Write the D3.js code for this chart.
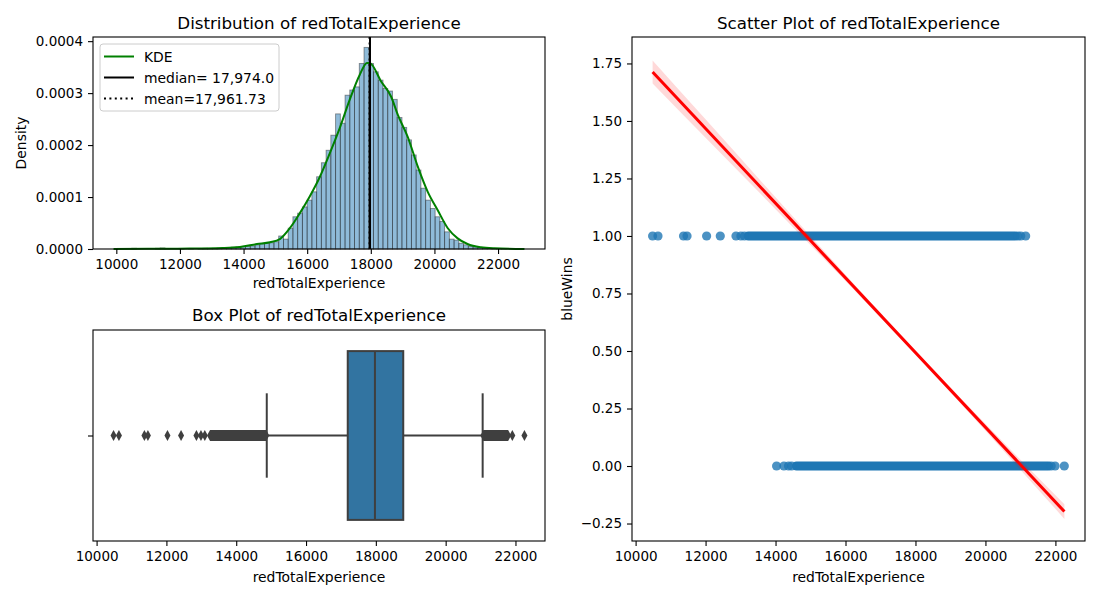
<!DOCTYPE html>
<html>
<head>
<meta charset="utf-8">
<script src="https://cdn.jsdelivr.net/npm/d3@7"></script>
<style>
  body { margin: 0; background: #fff; }
  svg text { font-family: "DejaVu Sans", sans-serif; fill: #000; }
</style>
</head>
<body>
<svg id="chart" width="1100" height="600"></svg>
<script>
// ---- data ----
const featureName = "redTotalExperience";
const targetName = "blueWins";

// histogram (density), bins of equal width starting at the data minimum
const histBinStart = 10486;
const histBinWidth = 149;
const histDensityE5 = [
  0.14, 0, 0, 0, 0, 0.14, 0.2, 0.07, 0, 0,
  0.07, 0, 0.07, 0, 0.07, 0.14, 0.07, 0.14, 0.2, 0.2,
  0.3, 0.35, 0.4, 0.5, 0.5, 0.6, 0.8, 1.0, 1.1, 1.2,
  1.4, 2.5, 1.9, 4.0, 6.2, 6.9, 8.1, 9.4, 11.0, 13.9,
  16.6, 19.0, 21.9, 26.0, 24.2, 29.6, 30.6, 31.2, 35.7, 38.8,
  35.7, 34.1, 32.5, 30.9, 30.4, 28.8, 25.3, 23.4, 21.0, 18.1,
  15.2, 11.7, 9.4, 7.8, 6.2, 5.3, 3.3, 1.9, 1.7, 1.1,
  0.8, 0.5, 0.4, 0.3, 0.2, 0.15, 0.1, 0.07, 0.07
];

// KDE curve samples
const kdeX = [9913, 11000, 12300, 13350, 13890, 14420, 14830, 15140, 15455, 15770,
  16080, 16400, 16710, 17020, 17335, 17650, 17880, 17960, 18330, 18640,
  18850, 19160, 19480, 19790, 20100, 20420, 20730, 21040, 21460, 21880, 22830];
const kdeYE5 = [0, 0.03, 0.08, 0.2, 0.4, 0.95, 1.3, 1.9, 4.0, 6.9,
  10.1, 13.9, 18.4, 23.2, 28.7, 33.5, 35.8, 35.8, 32.2, 29.3,
  25.8, 21.6, 15.8, 11.0, 7.5, 4.0, 2.05, 0.96, 0.33, 0.13, 0];

const medianValue = 17974.0;
const meanValue = 17961.73;

const histYTicks = [0, 0.0001, 0.0002, 0.0003, 0.0004];
const xTicks = [10000, 12000, 14000, 16000, 18000, 20000, 22000];
const scatterYTicks = [-0.25, 0, 0.25, 0.5, 0.75, 1.0, 1.25, 1.5, 1.75];

// box plot
const boxQ1 = 17195;
const boxMedian = 17974;
const boxQ3 = 18785;
const whiskerLow = 14875;
const whiskerHigh = 21060;
const boxOutliers = [10486, 10640, 11370, 11470, 12030, 12420, 12860, 12990, 13100, 21910, 22257];
const boxOutlierRuns = [[13250, 14860], [21080, 21790]];

// scatter: isolated points and dense runs of points
const winsX = [10486, 10640, 11370, 11470, 12030, 12420, 12870, 13010, 13110, 20930, 21010, 21150];
const winsRun = [13220, 20850];
const lossX = [14030, 14240, 14370, 14460, 21880, 21990, 22254];
const lossRun = [14600, 21800];

// regression line and confidence band half-width
const regX = [10486, 22257];
const regY = [1.713, -0.198];
const ciX = [10486, 12000, 14000, 16000, 18000, 20000, 22257];
const ciHalf = [0.05, 0.04, 0.026, 0.014, 0.008, 0.015, 0.032];

// ---- drawing ----
const svg = d3.select("#chart");
const tickFont = 13.5;
const labelFont = 13.9;
const titleFont = 16.7;

function styleAxis(g) {
  g.attr("font-family", "DejaVu Sans").attr("font-size", tickFont);
  g.select(".domain").remove();
  g.selectAll(".tick line").attr("stroke", "#000").attr("stroke-width", 1.1);
  g.selectAll(".tick text").attr("fill", "#000");
}

function frame(x0, y0, x1, y1) {
  svg.append("rect")
    .attr("x", x0).attr("y", y0)
    .attr("width", x1 - x0).attr("height", y1 - y0)
    .attr("fill", "none").attr("stroke", "#000").attr("stroke-width", 1.1);
}

function title(text, x, y) {
  svg.append("text").attr("x", x).attr("y", y)
    .attr("text-anchor", "middle").attr("font-size", titleFont).text(text);
}

function xLabel(text, x, y) {
  svg.append("text").attr("x", x).attr("y", y)
    .attr("text-anchor", "middle").attr("font-size", labelFont).text(text);
}

function yLabel(text, x, y) {
  svg.append("text").attr("transform", `translate(${x},${y}) rotate(-90)`)
    .attr("text-anchor", "middle").attr("font-size", labelFont).text(text);
}

// ===== Histogram =====
const H = { left: 93, right: 545, top: 37, bottom: 249 };
const hx = d3.scaleLinear().domain([9267, 23476]).range([H.left, H.right]);
const hy = d3.scaleLinear().domain([0, 0.000408]).range([H.bottom, H.top]);

const bins = histDensityE5.map((d, i) => ({
  x0: histBinStart + i * histBinWidth,
  x1: histBinStart + (i + 1) * histBinWidth,
  y: d * 1e-5
})).filter(d => d.y > 0);

svg.append("g").selectAll("rect")
  .data(bins)
  .enter()
  .append("rect")
  .attr("x", d => hx(d.x0))
  .attr("width", d => hx(d.x1) - hx(d.x0))
  .attr("y", d => hy(d.y))
  .attr("height", d => hy(0) - hy(d.y))
  .attr("fill", "rgba(31,119,180,0.5)")
  .attr("stroke", "rgba(40,40,40,0.5)")
  .attr("stroke-width", 0.9);

const kdeLine = d3.line()
  .x(d => hx(d[0]))
  .y(d => hy(d[1] * 1e-5))
  .curve(d3.curveMonotoneX);

svg.append("path")
  .datum(kdeX.map((x, i) => [x, kdeYE5[i]]))
  .attr("d", kdeLine)
  .attr("fill", "none")
  .attr("stroke", "#008000")
  .attr("stroke-width", 2);

svg.append("line")
  .attr("x1", hx(medianValue)).attr("x2", hx(medianValue))
  .attr("y1", H.top).attr("y2", H.bottom)
  .attr("stroke", "#000").attr("stroke-width", 2);

svg.append("line")
  .attr("x1", hx(meanValue)).attr("x2", hx(meanValue))
  .attr("y1", H.top).attr("y2", H.bottom)
  .attr("stroke", "#000").attr("stroke-width", 2)
  .attr("stroke-dasharray", "2,3.4");

svg.append("g")
  .attr("transform", `translate(0,${H.bottom})`)
  .call(d3.axisBottom(hx).tickValues(xTicks).tickFormat(d3.format("d")).tickSize(5).tickPadding(5))
  .call(styleAxis);

svg.append("g")
  .attr("transform", `translate(${H.left},0)`)
  .call(d3.axisLeft(hy).tickValues(histYTicks).tickFormat(d3.format(".4f")).tickSize(5).tickPadding(5))
  .call(styleAxis);

frame(H.left, H.top, H.right, H.bottom);
title("Distribution of " + featureName, (H.left + H.right) / 2, 29);
xLabel(featureName, (H.left + H.right) / 2, 288);
yLabel("Density", 26, (H.top + H.bottom) / 2);

// legend
const legendItems = [
  { label: "KDE", color: "#008000", dash: null },
  { label: "median= " + d3.format(",.1f")(medianValue), color: "#000", dash: null },
  { label: "mean=" + d3.format(",.2f")(meanValue), color: "#000", dash: "2,3.4" }
];
const legend = svg.append("g").attr("transform", "translate(100,44)");
legend.append("rect")
  .attr("width", 179).attr("height", 67).attr("rx", 3)
  .attr("fill", "rgba(255,255,255,0.8)")
  .attr("stroke", "#cccccc").attr("stroke-width", 1);
const li = legend.selectAll("g.item")
  .data(legendItems)
  .enter()
  .append("g")
  .attr("class", "item")
  .attr("transform", (d, i) => `translate(0,${12.5 + i * 21})`);
li.append("line")
  .attr("x1", 4).attr("x2", 34)
  .attr("stroke", d => d.color).attr("stroke-width", 2)
  .attr("stroke-dasharray", d => d.dash);
li.append("text")
  .attr("x", 44).attr("y", 5)
  .attr("font-size", labelFont)
  .text(d => d.label);

// ===== Box plot =====
const B = { left: 93, right: 545, top: 330, bottom: 541 };
const bx = d3.scaleLinear().domain([9897, 22846]).range([B.left, B.right]);
const by = d3.scaleLinear().domain([-0.5, 0.5]).range([B.top, B.bottom]);
const boxColor = "#3274a1";
const boxEdge = "#3f3f3f";
const boxLw = 2;

svg.append("line")
  .attr("x1", bx(whiskerLow)).attr("x2", bx(boxQ1))
  .attr("y1", by(0)).attr("y2", by(0))
  .attr("stroke", boxEdge).attr("stroke-width", boxLw);
svg.append("line")
  .attr("x1", bx(boxQ3)).attr("x2", bx(whiskerHigh))
  .attr("y1", by(0)).attr("y2", by(0))
  .attr("stroke", boxEdge).attr("stroke-width", boxLw);
svg.selectAll("line.cap")
  .data([whiskerLow, whiskerHigh])
  .enter()
  .append("line")
  .attr("class", "cap")
  .attr("x1", d => bx(d)).attr("x2", d => bx(d))
  .attr("y1", by(-0.2)).attr("y2", by(0.2))
  .attr("stroke", boxEdge).attr("stroke-width", boxLw);

svg.append("rect")
  .attr("x", bx(boxQ1)).attr("width", bx(boxQ3) - bx(boxQ1))
  .attr("y", by(-0.4)).attr("height", by(0.4) - by(-0.4))
  .attr("fill", boxColor).attr("stroke", boxEdge).attr("stroke-width", boxLw);
svg.append("line")
  .attr("x1", bx(boxMedian)).attr("x2", bx(boxMedian))
  .attr("y1", by(-0.4)).attr("y2", by(0.4))
  .attr("stroke", boxEdge).attr("stroke-width", boxLw);

const dh = 5.5, dw = 3;
svg.selectAll("path.run")
  .data(boxOutlierRuns)
  .enter()
  .append("path")
  .attr("class", "run")
  .attr("d", d => {
    const a = bx(d[0]), b = bx(d[1]), c = by(0);
    return `M${a - dw},${c}L${a},${c - dh}L${b},${c - dh}L${b + dw},${c}L${b},${c + dh}L${a},${c + dh}Z`;
  })
  .attr("fill", boxEdge);
svg.selectAll("path.flier")
  .data(boxOutliers)
  .enter()
  .append("path")
  .attr("class", "flier")
  .attr("d", d => {
    const a = bx(d), c = by(0);
    return `M${a - dw},${c}L${a},${c - dh}L${a + dw},${c}L${a},${c + dh}Z`;
  })
  .attr("fill", boxEdge);

svg.append("g")
  .attr("transform", `translate(0,${B.bottom})`)
  .call(d3.axisBottom(bx).tickValues(xTicks).tickFormat(d3.format("d")).tickSize(5).tickPadding(5))
  .call(styleAxis);
svg.append("g")
  .attr("transform", `translate(${B.left},0)`)
  .call(d3.axisLeft(by).tickValues([0]).tickFormat("").tickSize(5))
  .call(styleAxis);

frame(B.left, B.top, B.right, B.bottom);
title("Box Plot of " + featureName, (B.left + B.right) / 2, 321);
xLabel(featureName, (B.left + B.right) / 2, 582);

// ===== Scatter =====
const S = { left: 632, right: 1085, top: 37, bottom: 541 };
const sx = d3.scaleLinear().domain([9897, 22846]).range([S.left, S.right]);
const sy = d3.scaleLinear().domain([-0.326, 1.865]).range([S.bottom, S.top]);
const dotColor = "#1f77b4";
const dotR = 4.6;

svg.selectAll("line.dense")
  .data([{ run: winsRun, y: 1 }, { run: lossRun, y: 0 }])
  .enter()
  .append("line")
  .attr("class", "dense")
  .attr("x1", d => sx(d.run[0])).attr("x2", d => sx(d.run[1]))
  .attr("y1", d => sy(d.y)).attr("y2", d => sy(d.y))
  .attr("stroke", dotColor)
  .attr("stroke-width", dotR * 2)
  .attr("stroke-linecap", "round");

const points = winsX.map(x => ({ x, y: 1 })).concat(lossX.map(x => ({ x, y: 0 })));
svg.selectAll("circle.pt")
  .data(points)
  .enter()
  .append("circle")
  .attr("class", "pt")
  .attr("cx", d => sx(d.x))
  .attr("cy", d => sy(d.y))
  .attr("r", dotR)
  .attr("fill", dotColor)
  .attr("fill-opacity", 0.8);

const regAt = x => regY[0] + (x - regX[0]) * (regY[1] - regY[0]) / (regX[1] - regX[0]);
const ciArea = d3.area()
  .x(d => sx(d.x))
  .y0(d => sy(regAt(d.x) - d.h))
  .y1(d => sy(regAt(d.x) + d.h))
  .curve(d3.curveMonotoneX);
svg.append("path")
  .datum(ciX.map((x, i) => ({ x, h: ciHalf[i] })))
  .attr("d", ciArea)
  .attr("fill", "red")
  .attr("fill-opacity", 0.15);

svg.append("line")
  .attr("x1", sx(regX[0])).attr("y1", sy(regY[0]))
  .attr("x2", sx(regX[1])).attr("y2", sy(regY[1]))
  .attr("stroke", "red").attr("stroke-width", 3);

svg.append("g")
  .attr("transform", `translate(0,${S.bottom})`)
  .call(d3.axisBottom(sx).tickValues(xTicks).tickFormat(d3.format("d")).tickSize(5).tickPadding(5))
  .call(styleAxis);
svg.append("g")
  .attr("transform", `translate(${S.left},0)`)
  .call(d3.axisLeft(sy).tickValues(scatterYTicks).tickFormat(d => d3.format(".2f")(d).replace("-", "\u2212")).tickSize(5).tickPadding(5))
  .call(styleAxis);

frame(S.left, S.top, S.right, S.bottom);
title("Scatter Plot of " + featureName, (S.left + S.right) / 2, 29);
xLabel(featureName, (S.left + S.right) / 2, 582);
yLabel(targetName, 572, (S.top + S.bottom) / 2);
</script>
</body>
</html>
